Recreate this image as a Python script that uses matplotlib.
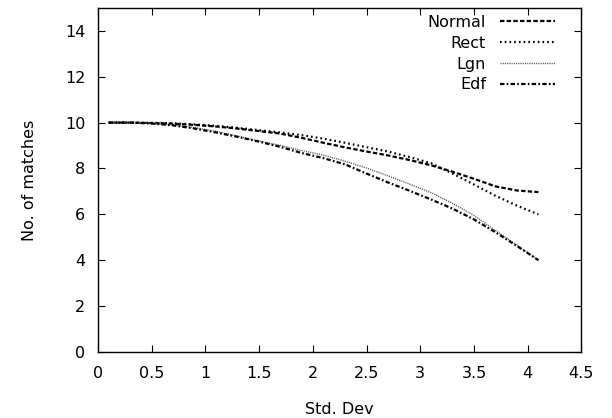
#!/usr/bin/env python3

import matplotlib
matplotlib.use("Agg")
from matplotlib import pyplot as plt

plt.rcParams["font.family"] = ["DejaVu Sans"]
plt.rcParams["lines.scale_dashes"] = False

FONT_SIZE = 11.5

STD_DEV = [0.1, 0.3, 0.5, 0.7, 0.9, 1.1, 1.3, 1.5, 1.7, 1.9, 2.1,
           2.3, 2.5, 2.7, 2.9, 3.1, 3.3, 3.5, 3.7, 3.9, 4.1]

NORMAL = [10.00, 10.00, 9.98, 9.95, 9.90, 9.83, 9.74, 9.63, 9.52, 9.33, 9.12,
          8.92, 8.74, 8.57, 8.37, 8.14, 7.86, 7.55, 7.22, 7.04, 6.97]
RECT = [10.00, 10.00, 9.99, 9.97, 9.92, 9.86, 9.77, 9.67, 9.57, 9.45, 9.30,
        9.12, 8.93, 8.74, 8.50, 8.23, 7.78, 7.30, 6.81, 6.38, 6.00]
LGN = [10.00, 10.00, 9.97, 9.90, 9.78, 9.62, 9.41, 9.20, 9.00, 8.78, 8.58,
       8.32, 8.02, 7.68, 7.32, 6.95, 6.48, 5.95, 5.30, 4.66, 4.00]
EDF = [10.00, 10.00, 9.96, 9.88, 9.74, 9.57, 9.38, 9.17, 8.94, 8.67, 8.45,
       8.18, 7.78, 7.39, 7.03, 6.65, 6.25, 5.78, 5.22, 4.62, 4.00]

X_TICKS = [0, 0.5, 1, 1.5, 2, 2.5, 3, 3.5, 4, 4.5]
X_LABELS = ["0", "0.5", "1", "1.5", "2", "2.5", "3", "3.5", "4", "4.5"]
Y_TICKS = [0, 2, 4, 6, 8, 10, 12, 14]


def create_figure():
    fig = plt.figure(figsize=(6.12, 4.18), dpi=100)
    ax = fig.add_axes([0.160, 0.158, 0.790, 0.823])
    ax.set_xlim([0, 4.5])
    ax.set_ylim([0, 15])
    return fig, ax


def main():
    fig, ax = create_figure()
    ax.plot(STD_DEV, NORMAL, color="black", lw=1.6, dashes=(3.2, 1.6),
            label="Normal")
    ax.plot(STD_DEV, RECT, color="black", lw=1.6, dashes=(1.2, 2.2),
            label="Rect")
    ax.plot(STD_DEV, LGN, color="#555555", lw=1.0, dashes=(0.8, 0.8),
            label="Lgn")
    ax.plot(STD_DEV, EDF, color="black", lw=1.6, dashes=(3.2, 1.6, 1.2, 1.6),
            label="Edf")

    ax.set_xticks(X_TICKS)
    ax.set_xticklabels(X_LABELS)
    ax.set_yticks(Y_TICKS)
    ax.tick_params(direction="in", length=5, width=0.8, top=True, right=True,
                   labelsize=FONT_SIZE)
    ax.tick_params(axis="x", pad=10)
    ax.tick_params(axis="y", pad=9)
    for spine in ax.spines.values():
        spine.set_linewidth(1.0)

    ax.set_xlabel("Std. Dev", fontsize=FONT_SIZE, labelpad=15)
    ax.set_ylabel("No. of matches", fontsize=FONT_SIZE, labelpad=20)

    ax.legend(loc="upper right", frameon=False, markerfirst=False,
              fontsize=FONT_SIZE, handlelength=3.4, handletextpad=0.9,
              labelspacing=0.36, borderaxespad=0.0,
              bbox_to_anchor=(0.958, 0.998))
    leg = ax.get_legend()
    for txt in leg.get_texts():
        txt.set_horizontalalignment("right")
    leg._legend_box.align = "right"

    fig.savefig("out.png", dpi=100)


if __name__ == "__main__":
    main()
